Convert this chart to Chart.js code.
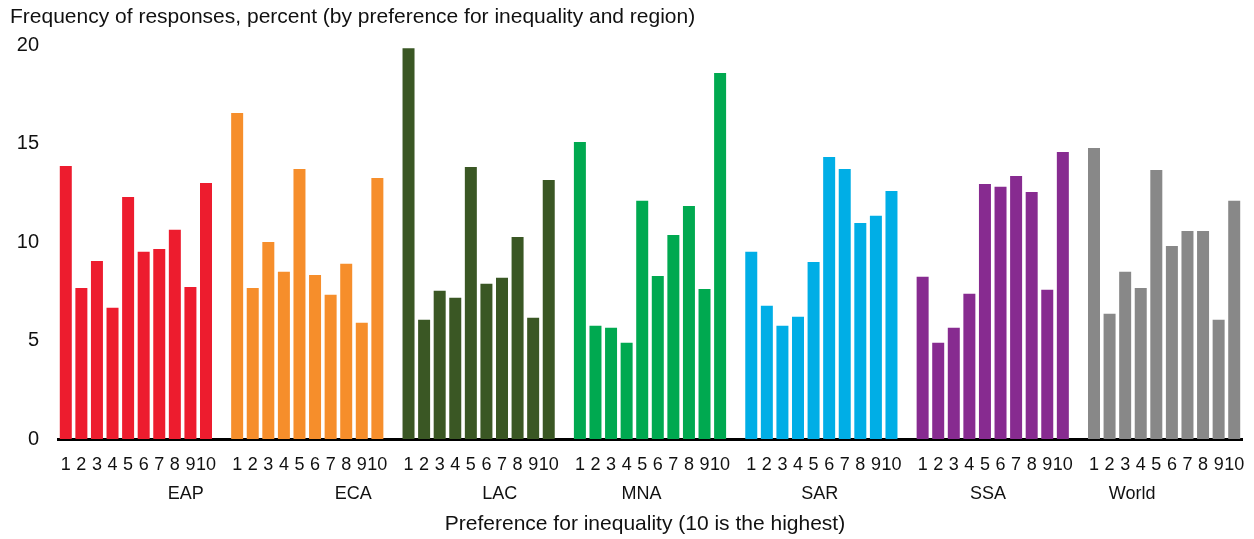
<!DOCTYPE html>
<html>
<head>
    <title>Preference for inequality by region</title>
    <script src="https://cdn.jsdelivr.net/npm/chart.js"></script>
    <style>
        body { margin: 0; background: #fff; }
    </style>
</head>
<body>

<canvas id="ineq_chart" width="1254" height="539"></canvas>

<script>
// answers 1..10 on the scale, in percent of respondents
const steps = ['1','2','3','4','5','6','7','8','9','10'];
const regions = ['EAP', 'ECA', 'LAC', 'MNA', 'SAR', 'SSA', 'World'];
const colors = ['#ED1C2E', '#F68E2B', '#3A5724', '#00A950', '#00AEE6', '#872B90', '#888888'];

const EAP   = [13.86, 7.67, 9.04, 6.66, 12.29, 9.50, 9.65, 10.62, 7.72, 13.00];
const ECA   = [16.55, 7.67, 10.00, 8.49, 13.71, 8.33, 7.32, 8.89, 5.90, 13.25];
const LAC   = [19.84, 6.05, 7.52, 7.17, 13.81, 7.88, 8.18, 10.26, 6.15, 13.15];
const MNA   = [15.08, 5.75, 5.65, 4.89, 12.09, 8.28, 10.36, 11.83, 7.62, 18.58];
const SAR   = [9.50, 6.76, 5.75, 6.20, 8.99, 14.32, 13.71, 10.97, 11.33, 12.59];
const SSA   = [8.23, 4.89, 5.65, 7.37, 12.95, 12.80, 13.35, 12.54, 7.57, 14.57];
const World = [14.77, 6.36, 8.49, 7.67, 13.66, 9.80, 10.56, 10.56, 6.05, 12.09];

const series = [EAP, ECA, LAC, MNA, SAR, SSA, World];

// where the region names sit (slot index on the category axis, as in the original)
const regionLabelPos = [7.7, 18.45, 27.85, 36.95, 48.4, 59.2, 68.45];

// one empty slot between regions
const labels = [];
regions.forEach(function(r, i) {
    steps.forEach(function(s) { labels.push(s); });
    if (i < regions.length - 1) labels.push('');
});

const datasets = regions.map(function(r, i) {
    const data = labels.map(function() { return null; });
    const start = i * (steps.length + 1);
    series[i].forEach(function(v, j) { data[start + j] = v; });
    return {
        label: r,
        data: data,
        backgroundColor: colors[i],
        borderWidth: 0
    };
});

const FONT = "'Liberation Sans', Arial, Helvetica, sans-serif";

const textPlugin = {
    id: 'extraText',
    afterDraw: function(chart) {
        const ctx = chart.ctx;
        const x = chart.scales.x;
        ctx.save();
        ctx.fillStyle = '#111';
        ctx.textBaseline = 'middle';

        ctx.font = '21px ' + FONT;
        ctx.textAlign = 'left';
        ctx.fillText('Frequency of responses, percent (by preference for inequality and region)', 10, 17);

        ctx.font = '18px ' + FONT;
        ctx.textAlign = 'center';
        regions.forEach(function(r, i) {
            const pos = regionLabelPos[i];
            const lo = Math.floor(pos);
            const px = x.getPixelForValue(lo) + (pos - lo) * (x.getPixelForValue(lo + 1) - x.getPixelForValue(lo));
            ctx.fillText(r, px, 494);
        });

        ctx.font = '21px ' + FONT;
        ctx.fillText('Preference for inequality (10 is the highest)', 645, 524);
        ctx.restore();
    }
};

document.addEventListener("DOMContentLoaded", function() {
    const ctx = document.getElementById('ineq_chart').getContext('2d');

    new Chart(ctx, {
        type: 'bar',
        data: {
            labels: labels,
            datasets: datasets
        },
        options: {
            responsive: false,
            animation: false,
            layout: {
                padding: { top: 45, right: 12, left: 0, bottom: 0 }
            },
            datasets: {
                bar: {
                    grouped: false,
                    categoryPercentage: 1,
                    barPercentage: 0.77
                }
            },
            scales: {
                x: {
                    grid: { display: false, drawTicks: false },
                    border: { display: true, color: '#000', width: 3 },
                    ticks: {
                        autoSkip: false,
                        maxRotation: 0,
                        minRotation: 0,
                        padding: 15,
                        color: '#111',
                        font: { family: FONT, size: 18 }
                    },
                    afterFit: function(scale) {
                        scale.height = 100;
                        scale.paddingRight = 0;
                    }
                },
                y: {
                    min: 0,
                    max: 20,
                    grid: { display: false, drawTicks: false },
                    border: { display: false },
                    ticks: {
                        stepSize: 5,
                        padding: 19,
                        color: '#111',
                        font: { family: FONT, size: 20 }
                    },
                    afterFit: function(scale) { scale.width = 58; }
                }
            },
            plugins: {
                legend: { display: false },
                tooltip: { enabled: false }
            }
        },
        plugins: [textPlugin]
    });
});
</script>

</body>
</html>
